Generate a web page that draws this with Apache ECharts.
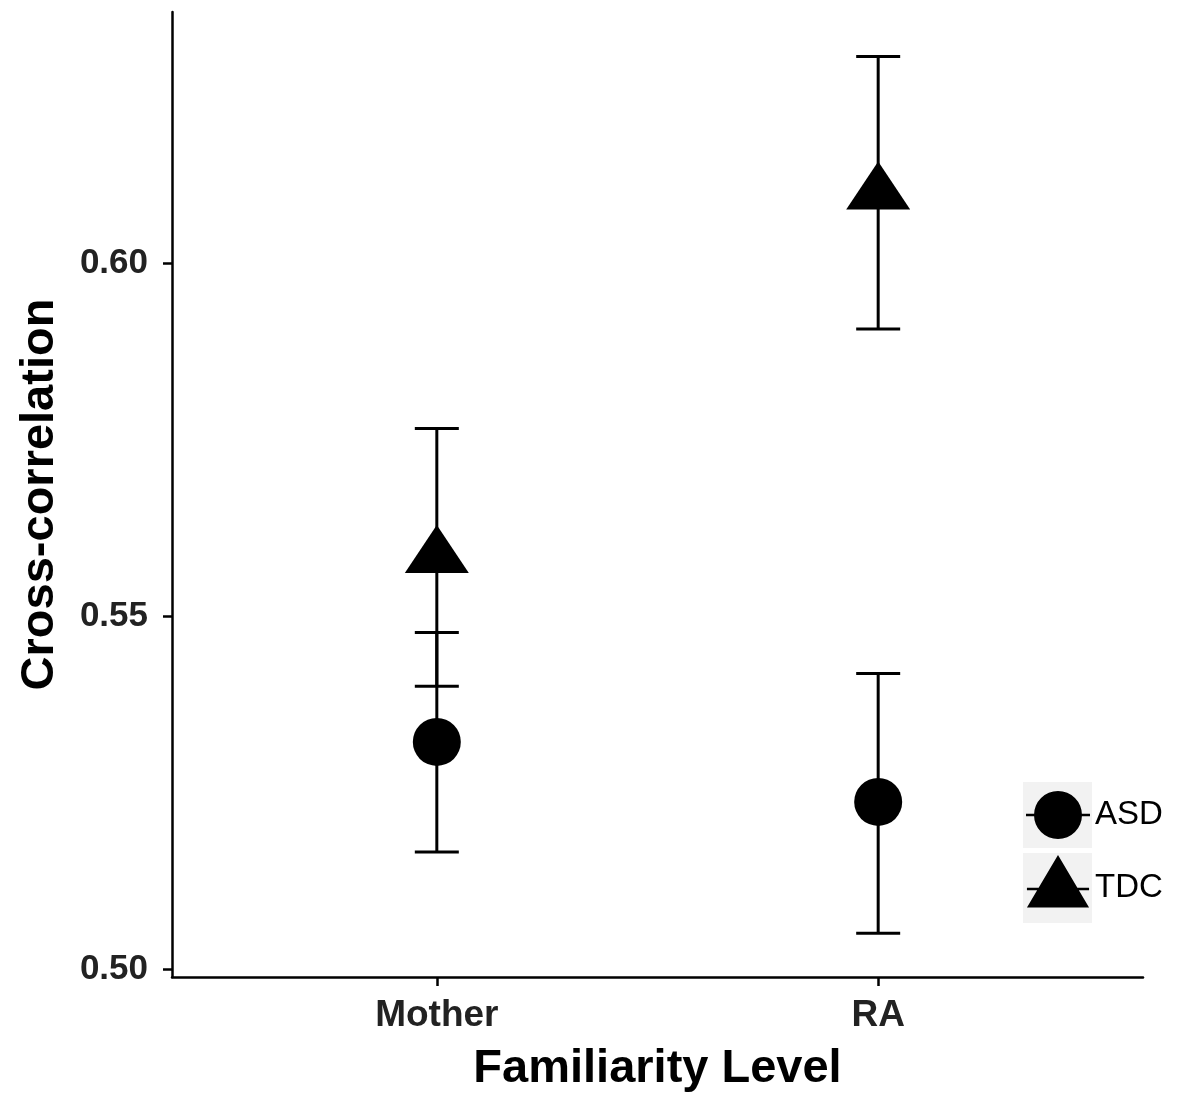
<!DOCTYPE html>
<html>
<head>
<meta charset="utf-8">
<script src="https://cdn.jsdelivr.net/npm/echarts@6/dist/echarts.min.js"></script>
<style>
  html, body { margin: 0; padding: 0; background: #fff; }
  #chart { width: 1185px; height: 1100px; }
</style>
</head>
<body>
<div id="chart"></div>
<script>
// ---- data ----
var categories = ['Mother', 'RA'];
var groups = ['ASD', 'TDC'];
var asdMean = [0.5322, 0.5237];
var asdLow  = [0.5166, 0.5051];
var asdHigh = [0.5477, 0.5419];
var tdcMean = [0.5584, 0.6099];
var tdcLow  = [0.5401, 0.5907];
var tdcHigh = [0.5766, 0.6293];
var yTickValues = [0.50, 0.55, 0.60];
var xTickValues = [1, 2];

var FONT = '"Liberation Sans", Arial, sans-serif';

function pts(means) {
  return means.map(function (v, i) { return [i + 1, v]; });
}
function bars(lows, highs) {
  return lows.map(function (lo, i) { return [i + 1, lo, highs[i]]; });
}

function renderErr(params, api) {
  var x = api.value(0);
  var lo = api.coord([x, api.value(1)]);
  var hi = api.coord([x, api.value(2)]);
  var hw = 22;
  var style = { stroke: '#000', lineWidth: 3, fill: null };
  return {
    type: 'group',
    children: [
      { type: 'line', shape: { x1: lo[0], y1: lo[1], x2: hi[0], y2: hi[1] }, style: style },
      { type: 'line', shape: { x1: lo[0] - hw, y1: lo[1], x2: lo[0] + hw, y2: lo[1] }, style: style },
      { type: 'line', shape: { x1: hi[0] - hw, y1: hi[1], x2: hi[0] + hw, y2: hi[1] }, style: style }
    ]
  };
}

// legend key icons (64 x 66 box, key line through the middle at y = 33)
var iconCircle = 'path://M0,0 L0,0 M0,66 L0,66 M0,31.75 L64,31.75 L64,34.25 L0,34.25 Z M8,33 A24,24 0 1 1 56,33 A24,24 0 1 1 8,33 Z';
var iconTri = 'path://M0,0 L0,0 M0,66 L0,66 M32,-2 L64,52 L0,52 Z M0,31.75 L64,31.75 L64,34.25 L0,34.25 Z';

var chart = echarts.init(document.getElementById('chart'), null, { renderer: 'canvas' });
chart.setOption({
  backgroundColor: '#fff',
  animation: false,
  textStyle: { fontFamily: FONT },
  grid: { left: 172, right: 42, top: 12, bottom: 123, containLabel: false },
  graphic: [
    { type: 'rect', shape: { x: 1023, y: 782, width: 69, height: 66 }, style: { fill: '#f2f2f2' }, z: 0 },
    { type: 'rect', shape: { x: 1023, y: 853, width: 69, height: 70 }, style: { fill: '#f2f2f2' }, z: 0 }
  ],
  legend: {
    orient: 'vertical',
    left: 1026,
    top: 782,
    padding: 0,
    itemWidth: 64,
    itemHeight: 66,
    itemGap: 7,
    selectedMode: false,
    textStyle: { fontFamily: FONT, fontSize: 33, color: '#000' },
    data: [
      { name: groups[0], icon: iconCircle },
      { name: groups[1], icon: iconTri }
    ]
  },
  xAxis: {
    type: 'value',
    min: 0.4,
    max: 2.6,
    splitLine: { show: false },
    axisLine: { show: true, onZero: false, lineStyle: { color: '#000', width: 2.5 } },
    axisTick: { show: true, customValues: xTickValues, length: 9, lineStyle: { color: '#000', width: 2.5 } },
    axisLabel: {
      customValues: xTickValues,
      margin: 20,
      fontFamily: FONT, fontSize: 37, fontWeight: 'bold', color: '#222',
      formatter: function (v) { return categories[Math.round(v) - 1] || ''; }
    },
    name: 'Familiarity Level',
    nameLocation: 'middle',
    nameGap: 69,
    nameTextStyle: { fontFamily: FONT, fontSize: 47, fontWeight: 'bold', color: '#000' }
  },
  yAxis: {
    type: 'value',
    min: 0.4989,
    max: 0.6356,
    splitLine: { show: false },
    axisLine: { show: true, onZero: false, lineStyle: { color: '#000', width: 2.5 } },
    axisTick: { show: true, customValues: yTickValues, length: 9, lineStyle: { color: '#000', width: 2.5 } },
    axisLabel: {
      customValues: yTickValues,
      margin: 24,
      fontFamily: FONT, fontSize: 35, fontWeight: 'bold', color: '#222',
      formatter: function (v) { return v.toFixed(2); }
    },
    name: 'Cross-correlation',
    nameLocation: 'middle',
    nameRotate: 90,
    nameGap: 108,
    nameTextStyle: { fontFamily: FONT, fontSize: 47, fontWeight: 'bold', color: '#000' }
  },
  series: [
    { name: 'ASD bars', type: 'custom', renderItem: renderErr, data: bars(asdLow, asdHigh), z: 1, silent: true },
    { name: 'TDC bars', type: 'custom', renderItem: renderErr, data: bars(tdcLow, tdcHigh), z: 1, silent: true },
    { name: groups[0], type: 'scatter', symbol: 'circle', symbolSize: 48, data: pts(asdMean),
      itemStyle: { color: '#000', opacity: 1 }, z: 3, silent: true },
    { name: groups[1], type: 'scatter', symbol: 'triangle', symbolSize: [64, 48], symbolOffset: [0, -8],
      data: pts(tdcMean), itemStyle: { color: '#000', opacity: 1 }, z: 3, silent: true }
  ]
});
</script>
</body>
</html>
